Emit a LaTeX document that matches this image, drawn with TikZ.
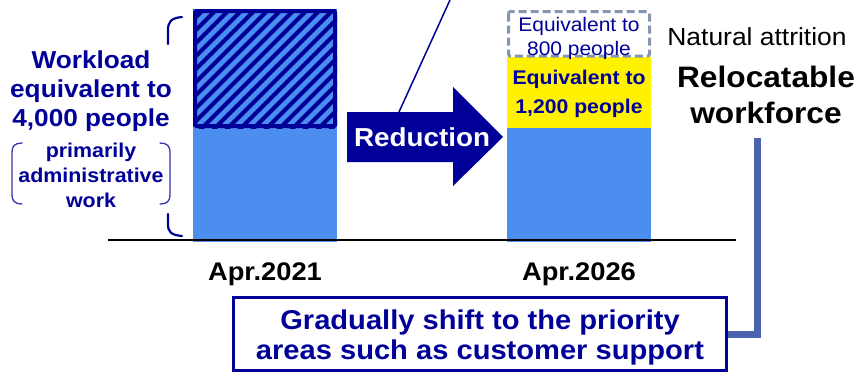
\documentclass[tikz,border=0pt]{standalone}
\usepackage{fontspec}
\setmainfont{Liberation Sans}[FakeStretch=1.07]
\definecolor{navy}{RGB}{0,0,153}
\definecolor{barblue}{RGB}{76,142,239}
\definecolor{dashgray}{RGB}{132,150,176}
\definecolor{linkblue}{RGB}{74,100,176}
\begin{document}
\begin{tikzpicture}[x=1pt,y=-1pt,
  txt/.style={inner sep=0pt, align=center},
  bracket/.style={navy, line width=2.2, line cap=round},
  paren/.style={navy!80!white, line width=1.3, line cap=round},
]
\useasboundingbox (0,0) rectangle (859,372);
% axis
\coordinate (axL) at (108,240);
\coordinate (axR) at (736,240);
% left bar
\fill[barblue] (193,128) rectangle (337,242);
\fill[barblue] (193,9) rectangle (337,128);
\begin{scope}
  \clip (193,9) rectangle (337,128);
  \foreach \i in {0,...,22} \draw[navy, line width=4] (70+\i*13,130) -- ++(123,-123);
\end{scope}
\draw[navy, line width=4, rounded corners=1.5] (195,11) rectangle (335,126);
% right bar
\fill[barblue] (507,128) rectangle (651,242);
\fill[yellow] (507,57) rectangle (651,128);
\draw[dashgray, line width=3, dash pattern=on 8 off 4, rounded corners=2] (508.5,11.5) rectangle (649.5,56);
\draw[black, line width=1.3] (axL) -- (axR);
% reduction arrow
\fill[navy] (347,112) -- (453,112) -- (453,87) -- (503,137) -- (453,186) -- (453,162) -- (347,162) -- cycle;
\node[txt, text=white, font=\fontsize{26}{30}\selectfont\bfseries] (red) at (422,137) {Reduction};
\coordinate (arrowtop) at (399,112);
\coordinate (callout) at (450,0);
\draw[navy, line width=1.5] (arrowtop) -- (callout);
% left texts
\node[txt, text=navy, font=\fontsize{24.5}{29}\selectfont\bfseries] (work) at (91,91) {Workload\\equivalent to\\4,000 people};
\node[txt, text=navy, font=\fontsize{20}{25}\selectfont\bfseries] (admin) at (91,175) {primarily\\administrative\\work};
% big bracket
\draw[bracket] (182,17) .. controls (171,18) and (168,22) .. (168,30) -- (168,44);
\draw[bracket] (168,214) -- (168,224) .. controls (168,232) and (171,235) .. (182,236);
% small parens
\draw[paren] (22,143) .. controls (15,143) and (12,146) .. (12,152) -- (12,195) .. controls (12,201) and (15,204) .. (22,204);
\draw[paren] (160,143) .. controls (167,143) and (170,146) .. (170,152) -- (170,195) .. controls (170,201) and (167,204) .. (160,204);
% right bar texts
\node[txt, text=navy, font=\fontsize{19.6}{24}\selectfont] (e800) at (579,38) {Equivalent to\\800 people};
\node[txt, text=navy, font=\fontsize{19.8}{29}\selectfont\bfseries] (e1200) at (579,94) {Equivalent to\\1,200 people};
% right texts
\node[txt, font=\fontsize{24.7}{30}\selectfont] (nat) at (757,37) {Natural attrition};
\node[txt, font=\fontsize{29.6}{36}\selectfont\bfseries] (reloc) at (766,95) {Relocatable\\workforce};
% axis labels
\node[txt, font=\fontsize{25.5}{30}\selectfont\bfseries] (y21) at (265,274) {Apr.2021};
\node[txt, font=\fontsize{25.5}{30}\selectfont\bfseries] (y26) at (579,274) {Apr.2026};
% bottom box
\node[draw=navy, line width=3, fill=white, minimum width=493, minimum height=73, inner sep=0] (box) at (480,334) {};
\node[txt, text=navy, font=\fontsize{27.2}{30}\selectfont\bfseries] (boxtext) at (480,337) {Gradually shift to the priority\\areas such as customer support};
\coordinate (linktop) at (757,138);
\draw[linkblue, line width=7] (linktop) |- (box.east);
\end{tikzpicture}
\end{document}
